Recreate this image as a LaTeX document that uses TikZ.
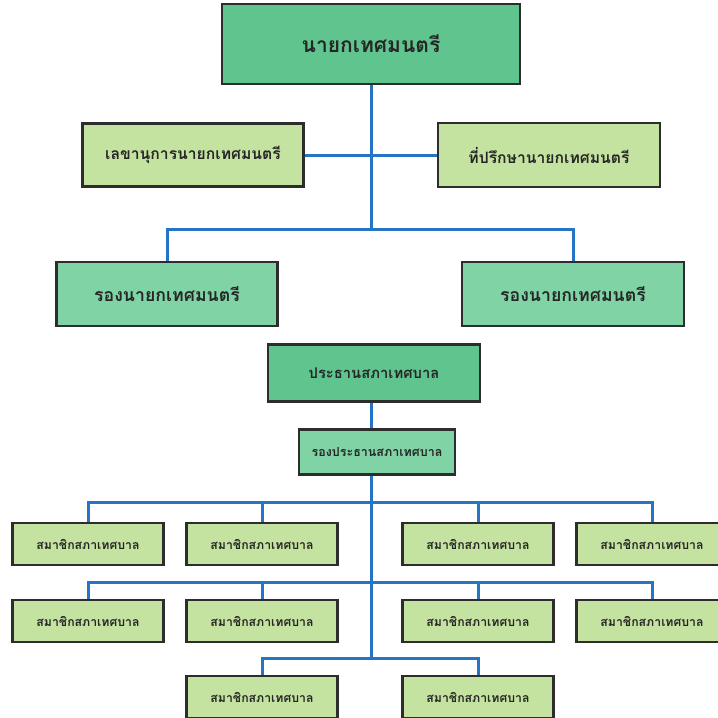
\documentclass[tikz,border=0pt]{standalone}
\usepackage{fontspec}
\newfontfamily\thaifont[Script=Thai]{Loma}
\definecolor{headgreen}{RGB}{96,196,142}
\definecolor{midgreen}{RGB}{127,211,165}
\definecolor{palegreen}{RGB}{197,227,160}
\definecolor{linkblue}{RGB}{38,116,198}
\definecolor{edgegray}{RGB}{45,45,45}
\tikzset{
  orgbox/.style={draw=edgegray, line width=2.4pt, inner sep=0pt, text=black!85, font=\thaifont\bfseries},
  headbox/.style={orgbox, fill=headgreen},
  deputybox/.style={orgbox, fill=midgreen},
  staffbox/.style={orgbox, fill=palegreen},
  memberbox/.style={staffbox, minimum width=151pt, minimum height=42pt, font=\thaifont\bfseries\fontsize{12.3}{14}\selectfont},
  link/.style={draw=linkblue, line width=3pt}
}
\begin{document}
\begin{tikzpicture}[x=1pt,y=-1pt]
\useasboundingbox (0,0) rectangle (718,718);
\node[headbox, minimum width=298pt, minimum height=80pt, font=\thaifont\bfseries\fontsize{21}{24}\selectfont] (mayor) at (371,44) {นายกเทศมนตรี};
\node[staffbox, minimum width=221pt, minimum height=63pt, font=\thaifont\bfseries\fontsize{15.7}{18}\selectfont] (secretary) at (193,155) {เลขานุการนายกเทศมนตรี};
\node[staffbox, minimum width=222pt, minimum height=64pt, font=\thaifont\bfseries\fontsize{15.7}{18}\selectfont] (advisor) at (549,155) {ที่ปรึกษานายกเทศมนตรี};
\node[deputybox, minimum width=221pt, minimum height=64pt, font=\thaifont\bfseries\fontsize{17.7}{20}\selectfont] (deputyA) at (167,294) {รองนายกเทศมนตรี};
\node[deputybox, minimum width=222pt, minimum height=64pt, font=\thaifont\bfseries\fontsize{17.7}{20}\selectfont] (deputyB) at (573,294) {รองนายกเทศมนตรี};
\node[headbox, minimum width=212pt, minimum height=57pt, font=\thaifont\bfseries\fontsize{14.8}{17}\selectfont] (president) at (374,373) {ประธานสภาเทศบาล};
\node[deputybox, minimum width=156pt, minimum height=45pt, font=\thaifont\bfseries\fontsize{12.5}{14}\selectfont] (vicepres) at (377,452) {รองประธานสภาเทศบาล};
\node[memberbox] (memA) at (88,544) {สมาชิกสภาเทศบาล};
\node[memberbox] (memB) at (262,544) {สมาชิกสภาเทศบาล};
\node[memberbox] (memC) at (478,544) {สมาชิกสภาเทศบาล};
\node[memberbox] (memD) at (652,544) {สมาชิกสภาเทศบาล};
\node[memberbox] (memE) at (88,621) {สมาชิกสภาเทศบาล};
\node[memberbox] (memF) at (262,621) {สมาชิกสภาเทศบาล};
\node[memberbox] (memG) at (478,621) {สมาชิกสภาเทศบาล};
\node[memberbox] (memH) at (652,621) {สมาชิกสภาเทศบาล};
\node[memberbox] (memI) at (262,697) {สมาชิกสภาเทศบาล};
\node[memberbox] (memJ) at (478,697) {สมาชิกสภาเทศบาล};
\coordinate (splitTop) at (371,229);
\coordinate (rowOne) at (371,502);
\coordinate (rowTwo) at (371,582);
\coordinate (rowThree) at (371,658);
\draw[link] (mayor.south) -- (splitTop);
\draw[link] (secretary) -- (advisor);
\draw[link] (deputyA.north) |- (splitTop) -| (deputyB.north);
\draw[link] (president.south -| rowThree) -- (vicepres.north -| rowThree);
\draw[link] (vicepres.south -| rowThree) -- (rowThree);
\draw[link] (memA.north) |- (rowOne) -| (memD.north);
\draw[link] (memB.north) |- (rowOne) -| (memC.north);
\draw[link] (memE.north) |- (rowTwo) -| (memH.north);
\draw[link] (memF.north) |- (rowTwo) -| (memG.north);
\draw[link] (memI.north) |- (rowThree) -| (memJ.north);
\end{tikzpicture}
\end{document}
